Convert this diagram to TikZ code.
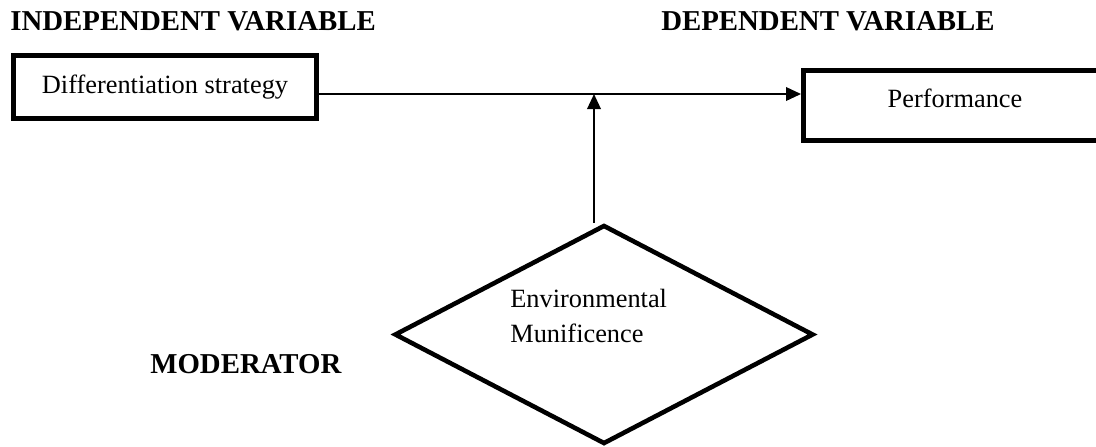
\documentclass[tikz,border=0pt]{standalone}
\usepackage{fontspec}
\setmainfont{Liberation Serif}
\usetikzlibrary{arrows.meta, shapes.geometric}
\tikzset{
    varbox/.style={rectangle, draw, line width=2.8pt, minimum width=60.6mm, inner sep=0pt, font=\fontsize{15}{20}\selectfont},
    moddiamond/.style={diamond, draw, line width=2.6pt, minimum width=83.8mm, minimum height=43.8mm, inner sep=0pt},
    varhead/.style={inner sep=0pt, font=\fontsize{16.4}{20}\selectfont\bfseries},
    modtext/.style={inner sep=0pt, font=\fontsize{15}{20}\selectfont, align=left},
    dedge/.style={->, > = {Triangle[length=3mm, width=2.7mm]}, line width=1.1pt, draw=black},
}

\begin{document}
\begin{tikzpicture}[x=0.2mm, y=-0.2mm]
\useasboundingbox (0,0) rectangle (1096,446);
\node[varhead, anchor=base west] (indep) at (10,30.5) {INDEPENDENT VARIABLE};
\node[varhead, anchor=base east] (dep) at (995,30) {DEPENDENT VARIABLE};
\node[varhead, anchor=base west] (modhead) at (150,373) {MODERATOR};
\node[varbox, minimum height=12.6mm] (diff) at (165,87) {Differentiation strategy};
\node[varbox, minimum height=14mm, text depth=8.5pt] (perf) at (955,105.5) {Performance};
\node[moddiamond] (mod) at (604,334.5) {};
\node[modtext, anchor=west] (modtxt) at (510,316) {Environmental\\Munificence};
\coordinate (jn) at (594,94);
\draw[dedge] (diff.east |- jn) -- (perf.west |- jn);
\draw[dedge] (mod.north -| jn) -- (jn);
\end{tikzpicture}
\end{document}
